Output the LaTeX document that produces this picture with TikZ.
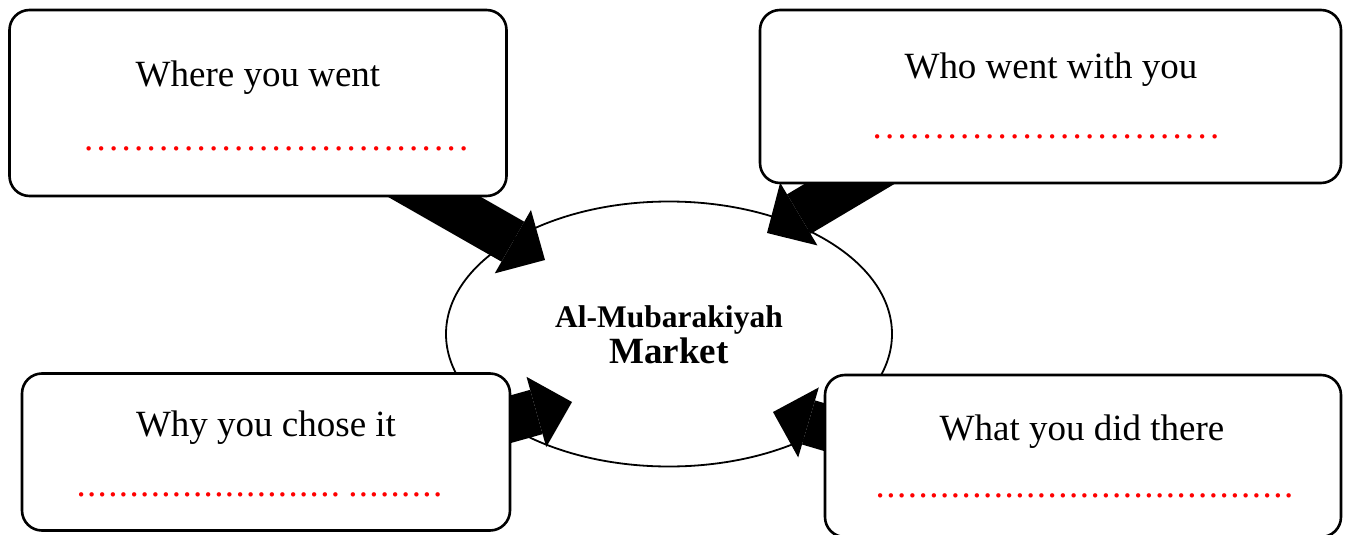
\documentclass[tikz,border=0pt]{standalone}
\usepackage{fontspec}
\setmainfont{Liberation Serif}
\usetikzlibrary{arrows.meta,calc,shapes.geometric}
\pgfdeclarelayer{bg}
\pgfdeclarelayer{mid}
\pgfsetlayers{bg,mid,main}
\newcommand{\dotrow}[2]{\foreach \i in {1,...,#1}{\makebox[#2]{.}}}
\begin{document}
\begin{tikzpicture}[x=1pt,y=-1pt,
  box/.style={draw,line width=2.6pt,rounded corners=20pt,fill=white,inner sep=0pt},
  title/.style={anchor=base,inner sep=0pt,font=\fontsize{37}{44}\selectfont},
  dotline/.style={anchor=base west,inner sep=0pt,text=red,font=\fontsize{37}{44}\selectfont},
  fat/.style={line width=46pt,-{Triangle[length=37pt,width=73pt,line width=0pt]}}]
\useasboundingbox (0,0) rectangle (1350,535);

% boxes
\node[box,minimum width=497pt,minimum height=186pt] (tl) at (258,103) {};
\node[box,minimum width=581pt,minimum height=173pt] (tr) at (1050.5,96.5) {};
\node[box,minimum width=488pt,minimum height=157pt] (bl) at (266,452) {};
\node[box,minimum width=516pt,minimum height=162pt] (br) at (1083,456) {};

% titles
\node[title] (tlT) at (258,86) {Where you went};
\node[title] (trT) at (1051,79) {Who went with you};
\node[title] (blT) at (266,436) {Why you chose it};
\node[title] (brT) at (1082,440) {What you did there};

% dot lines
\node[dotline] (tlD) at (82.4,150) {\dotrow{31}{12.5pt}};
\node[dotline] (trD) at (870.7,138) {\dotrow{28}{12.5pt}};
\node[dotline] (blD) at (75.7,496) {\dotrow{25}{10.6pt}\hspace{6.7pt}\dotrow{9}{10.6pt}};
\node[dotline] (brD) at (874.6,497) {\dotrow{39}{10.75pt}};

% centre ellipse
\begin{pgfonlayer}{bg}
\node[ellipse,draw,line width=1.8pt,fill=white,minimum width=446pt,minimum height=265pt,inner sep=0pt] (mk) at (669,334) {};
\end{pgfonlayer}
\node[anchor=base,inner sep=0pt,font=\bfseries\fontsize{31.5}{36}\selectfont] (mk1) at (669,327) {Al-Mubarakiyah};
\node[anchor=base,inner sep=0pt,font=\bfseries\fontsize{37}{44}\selectfont] (mk2) at (669,363) {Market};

% arrows (start hidden under the boxes)
\coordinate (s1) at ($(tl.south)+(114,-36)$);
\coordinate (t1) at ($(mk.center)+(-124,-74)$);
\coordinate (s2) at ($(tr.south)+(-112.5,-53)$);
\coordinate (t2) at ($(mk.center)+(98,-101)$);
\coordinate (s3) at ($(bl.east)+(-82,-10)$);
\coordinate (t3) at ($(mk.center)+(-97,68)$);
\coordinate (s4) at ($(br.west)+(92,-2)$);
\coordinate (t4) at ($(mk.center)+(104,78)$);
\begin{pgfonlayer}{mid}
\draw[fat] (s1) -- (t1);
\draw[fat] (s2) -- (t2);
\draw[fat] (s3) -- (t3);
\draw[fat] (s4) -- (t4);
\end{pgfonlayer}
\end{tikzpicture}
\end{document}
